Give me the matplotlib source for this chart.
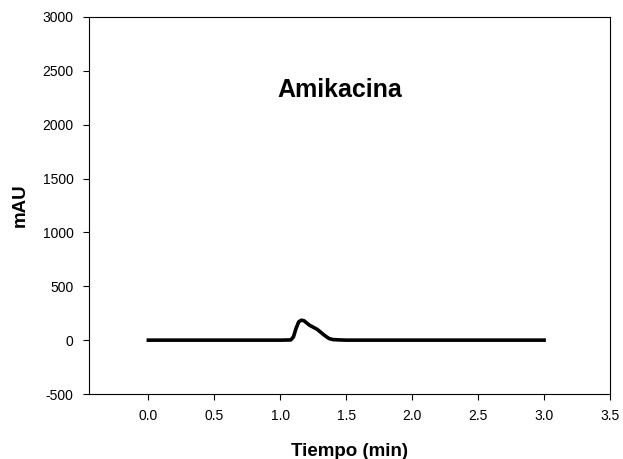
import matplotlib
matplotlib.use("Agg")
import matplotlib.pyplot as plt

plt.rcParams['font.family'] = ['Liberation Sans', 'DejaVu Sans']
plt.rcParams['axes.unicode_minus'] = False

time_min = [0.0, 0.5, 1.0, 1.08, 1.10, 1.12, 1.14, 1.16, 1.18, 1.20, 1.22, 1.25, 1.28, 1.31, 1.34, 1.37, 1.40, 1.45, 1.5, 2.0, 2.5, 3.0]
mau = [0, 0, 0, 2, 30, 110, 170, 185, 180, 160, 140, 120, 100, 70, 40, 15, 5, 2, 0, 0, 0, 0]

title_text = "Amikacina"
x_ticks = [0.0, 0.5, 1.0, 1.5, 2.0, 2.5, 3.0, 3.5]
y_ticks = [-500, 0, 500, 1000, 1500, 2000, 2500, 3000]

fig = plt.figure(figsize=(6.23, 4.59), dpi=100)
ax = fig.add_axes([89/623, 1-394/459, (610-89)/623, (394-17)/459])
ax.plot(time_min, mau, color='black', lw=2.6, solid_joinstyle='round')
ax.set_xlim(-0.45, 3.5)
ax.set_ylim(-500, 3000)
ax.set_xticks(x_ticks)
ax.set_xticklabels([f"{t:.1f}" for t in x_ticks])
ax.set_yticks(y_ticks)
ax.tick_params(direction='out', length=4, width=0.8, labelsize=10, pad=7, colors='black')
for s in ax.spines.values():
    s.set_linewidth(0.8)
ax.set_xlabel("Tiempo (min)", fontsize=13.5, fontweight='bold', labelpad=14)
ax.set_ylabel("mAU", fontsize=13.5, fontweight='bold', labelpad=10)
ax.text(1.45, 2320, title_text, fontsize=18, fontweight='bold', ha='center', va='center')
fig.savefig("out.png", dpi=100)
